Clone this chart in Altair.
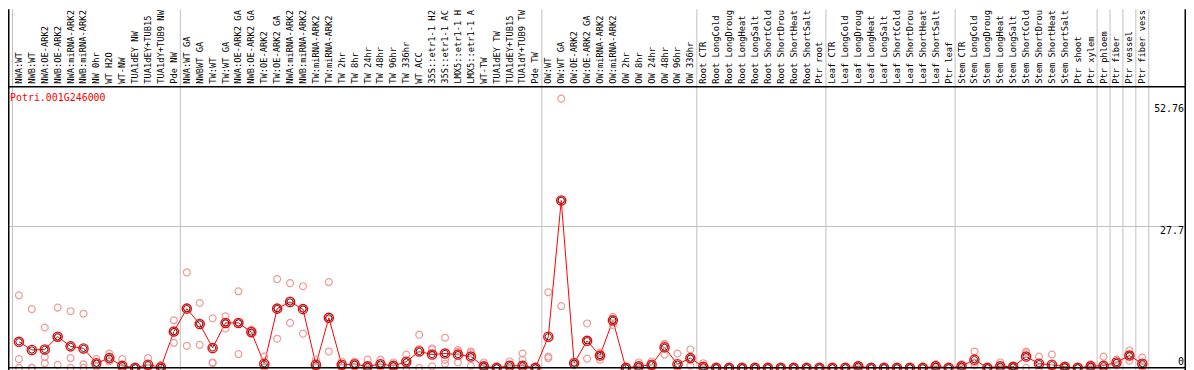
import altair as alt
import pandas as pd

labels = [
    "NWA:WT", "NWB:WT", "NWA:OE-ARK2", "NWB:OE-ARK2", "NWA:miRNA-ARK2", "NWB:miRNA-ARK2",
    "NW 0hr", "WT H2O", "WT-NW", "TUA1dEY NW", "TUA1dEY+TUB15", "TUA1dY+TUB9 NW", "Pde NW",
    "NWA:WT GA", "NWBWT GA", "TW:WT", "TW:WT GA", "NWA:OE-ARK2 GA", "NWB:OE-ARK2 GA",
    "TW:OE-ARK2", "TW:OE-ARK2 GA", "NWA:miRNA-ARK2", "NWB:miRNA-ARK2", "TW:miRNA-ARK2",
    "TW:miRNA-ARK2", "TW 2hr", "TW 8hr", "TW 24hr", "TW 48hr", "TW 96hr", "TW 336hr",
    "WT ACC", "35S::etr1-1 H2", "35S::etr1-1 AC", "LMX5::etr1-1 H", "LMX5::etr1-1 A",
    "WT-TW", "TUA1dEY TW", "TUA1dEY+TUB15", "TUA1dY+TUB9 TW", "Pde TW",
    "OW:WT", "OW:WT GA", "OW:OE-ARK2", "OW:OE-ARK2 GA", "OW:miRNA-ARK2", "OW:miRNA-ARK2",
    "OW 2hr", "OW 8hr", "OW 24hr", "OW 48hr", "OW 96hr", "OW 336hr",
    "Root CTR", "Root LongCold", "Root LongDroug", "Root LongHeat", "Root LongSalt",
    "Root ShortCold", "Root ShortDrou", "Root ShortHeat", "Root ShortSalt", "Ptr root",
    "Leaf CTR", "Leaf LongCold", "Leaf LongDroug", "Leaf LongHeat", "Leaf LongSalt",
    "Leaf ShortCold", "Leaf ShortDrou", "Leaf ShortHeat", "Leaf ShortSalt", "Ptr leaf",
    "Stem CTR", "Stem LongCold", "Stem LongDroug", "Stem LongHeat", "Stem LongSalt",
    "Stem ShortCold", "Stem ShortDrou", "Stem ShortHeat", "Stem ShortSalt", "Ptr shoot",
    "Ptr xylem", "Ptr phloem", "Ptr fiber", "Ptr vessel", "Ptr fiber vess",
]

means = [
    5.1, 3.5, 3.6, 6.1, 4.2, 3.8, 0.9, 1.9, 0.4, 0.0, 0.6, 0.1, 7.1,
    11.6, 8.6, 3.9, 8.8, 8.8, 7.0, 0.8, 11.6, 12.9, 11.5, 0.6, 9.8,
    0.6, 0.7, 0.3, 0.7, 0.4, 1.2, 3.2, 2.6, 2.8, 2.6, 2.2, 0.3, 0.0, 0.4, 0.4, 0.0,
    6.1, 32.8, 0.9, 5.3, 2.4, 9.3, 0.0, 0.3, 0.6, 4.0, 0.7, 1.9,
    0.2, 0, 0, 0, 0, 0, 0, 0, 0, 0,
    0, 0, 0.3, 0, 0, 0, 0, 0, 0.3, 0,
    0.3, 1.6, 0, 0.3, 0.2, 2.2, 0.8, 0.6, 0.2, 0, 0.3,
    0.4, 1.05, 2.4, 0.8,
]

rep1 = [
    14.2, 11.5, 7.9, 11.8, 11.1, 10.6, 1.7, 2.8, 1.7, 0, 1.9, 0.6, 9.3,
    18.7, 12.7, 9.7, 10.1, 15.0, 7.5, 2.2, 17.4, 16.6, 16.0, 1.6, 16.8,
    1.25, 1.25, 1.6, 1.6, 1.05, 2.6, 6.5, 3.8, 5.9, 3.5, 3.2, 1.05, 0, 1.25, 2.8, 0,
    14.8, 52.76, 1.2, 8.7, 3.0, 10.0, 0, 1.05, 1.25, 4.7, 2.8, 3.6,
    0.9, 0, 0, 0, 0, 0, 0, 0, 0, 0,
    0, 0, 0.6, 0, 0, 0, 0, 0, 0.7, 0,
    0.7, 3.2, 0, 1.05, 0.4, 3.2, 2.2, 2.6, 0.4, 0, 0.7,
    2.2, 1.6, 3.4, 2.0,
]
rep2 = [
    1.7, 0, 2.1, 5.9, 1.9, 0.7, 0.9, 1.7, 0, 0, 0, 0, 7.0,
    11.8, 8.7, 1.05, 8.7, 8.8, 6.8, 0.2, 11.7, 13.2, 11.7, 0.2, 9.5,
    0.5, 0.7, 0, 0.9, 0.3, 1.0, 3.7, 3.6, 1.6, 3.2, 2.9, 0.3, 0, 0, 1.6, 0,
    2.2, 32.9, 0.9, 5.5, 2.5, 9.5, 0, 0, 0.7, 4.6, 0, 1.8,
    0, 0, 0, 0, 0, 0, 0, 0, 0, 0,
    0, 0, 0.3, 0, 0, 0, 0, 0, 0.2, 0,
    0.2, 1.05, 0, 0, 0.2, 2.9, 0, 0, 0.1, 0, 0.2,
    0, 1.0, 2.4, 0.3,
]
rep3 = [
    0, 0, 0.9, 0.6, 0, 0, 0.2, 1.25, 0, 0, 0, 0, 4.9,
    4.3, 4.5, 0.9, 7.7, 2.7, 6.7, 0, 5.7, 8.8, 6.7, 0, 3.2,
    0, 0.2, 0, 0, 0, 0, 0, 0.3, 0.8, 1.05, 0.4, 0, 0, 0, 0, 0,
    1.9, 12.1, 0.6, 1.8, 1.6, 8.4, 0, 0, 0, 2.6, 0, 0.4,
    0, 0, 0, 0, 0, 0, 0, 0, 0, 0,
    0, 0, 0, 0, 0, 0, 0, 0, 0, 0,
    0, 0.5, 0, 0, 0, 0, 0, 0, 0, 0, 0,
    0, 0.5, 1.4, 0,
]

group_starts = [1, 14, 42, 54, 64, 74, 85, 86, 87, 88]
tick_values = [52.76, 27.7, 0]
tick_labels = ["52.76", "27.7", "0"]
gene = "Potri.001G246000"

W, H = 1186, 366
X0, X1 = 4.5, 1148.5
Y_BASE, Y_TOP = 361, 78
Y_MAX = 55.1
FONT = "DejaVu Sans Mono"

n = len(labels)
idx = list(range(1, n + 1))
df = pd.DataFrame({"idx": idx, "label": labels, "mean": means})
reps = pd.DataFrame({"idx": idx * 3, "value": rep1 + rep2 + rep3})
seps = pd.DataFrame({"idx": group_starts})
sep_end = pd.DataFrame({"idx": [n]})
ticks = pd.DataFrame({"v": tick_values, "t": tick_labels})

xs = alt.Scale(type="band", domain=idx, range=[X0, X1], paddingInner=0, paddingOuter=0)
ys = alt.Scale(domain=[0, Y_MAX], range=[Y_BASE, Y_TOP], nice=False, zero=True)


def X(**kw):
    return alt.X("idx:O", scale=xs, axis=None, **kw)


gray = "#c0c0c0"

sep_rules = alt.Chart(seps).mark_rule(color=gray, strokeWidth=1).encode(
    x=X(bandPosition=0), y=alt.value(0), y2=alt.value(H)
)
sep_last = alt.Chart(sep_end).mark_rule(color=gray, strokeWidth=1).encode(
    x=X(bandPosition=1), y=alt.value(0), y2=alt.value(H)
)
grid = alt.Chart(ticks[ticks.v == 27.7]).mark_rule(color=gray, strokeWidth=1).encode(
    y=alt.Y("v:Q", scale=ys, axis=None), x=alt.value(0), x2=alt.value(W)
)
zero_line = alt.Chart(ticks[ticks.v == 0]).mark_rule(color="black", strokeWidth=1.5).encode(
    y=alt.Y("v:Q", scale=ys, axis=None), x=alt.value(0), x2=alt.value(W)
)
header_line = alt.Chart(df.head(1)).mark_rule(color="black", strokeWidth=1.5).encode(
    y=alt.value(Y_TOP), x=alt.value(0), x2=alt.value(W)
)
left_border = alt.Chart(df.head(1)).mark_rule(color="black", strokeWidth=1.5).encode(
    x=alt.value(0.75), y=alt.value(0), y2=alt.value(H)
)
right_border = alt.Chart(df.head(1)).mark_rule(color="black", strokeWidth=1.5).encode(
    x=alt.value(W - 0.75), y=alt.value(0), y2=alt.value(H)
)

mean_line = alt.Chart(df).mark_line(color="#ff0000", strokeWidth=1).encode(
    x=X(), y=alt.Y("mean:Q", scale=ys, axis=None)
)
rep_pts = alt.Chart(reps).mark_point(
    shape="circle", filled=False, color="#f09a9a", size=48, strokeWidth=1.2, opacity=1
).encode(x=X(), y=alt.Y("value:Q", scale=ys, axis=None))
mean_outer = alt.Chart(df).mark_point(
    shape="circle", filled=False, color="#ff0000", size=85, strokeWidth=1.4, opacity=1
).encode(x=X(), y=alt.Y("mean:Q", scale=ys, axis=None))
mean_inner = alt.Chart(df).mark_point(
    shape="circle", filled=False, color="#000000", size=40, strokeWidth=0.8, opacity=1
).encode(x=X(), y=alt.Y("mean:Q", scale=ys, axis=None))

cat_text = alt.Chart(df).mark_text(
    angle=270, align="left", baseline="middle", font=FONT, fontSize=8.8, color="black"
).encode(x=X(), y=alt.value(Y_TOP - 3), text="label:N")

gene_text = alt.Chart(df.head(1)).mark_text(
    align="left", baseline="middle", font=FONT, fontSize=10, color="#ff0000"
).encode(x=alt.value(2), y=alt.value(Y_TOP + 11), text=alt.value(gene))

tick_layers = []
for v, t, dy in zip(tick_values, tick_labels, [13, 8, -3]):
    tick_layers.append(
        alt.Chart(ticks[ticks.t == t]).mark_text(
            align="right", baseline="alphabetic", font=FONT, fontSize=10, color="black", dy=dy
        ).encode(y=alt.Y("v:Q", scale=ys, axis=None), x=alt.value(W - 2), text="t:N")
    )

chart = alt.layer(
    sep_rules, sep_last, grid, mean_line, rep_pts, mean_outer, mean_inner,
    zero_line, header_line, left_border, right_border, cat_text, gene_text, *tick_layers
).properties(
    width=W, height=H, autosize=alt.AutoSizeParams(type="none"), padding=0,
    background="white",
).configure_view(strokeWidth=0)

chart.save("out.html", embed_options={"renderer": "svg", "actions": False})
